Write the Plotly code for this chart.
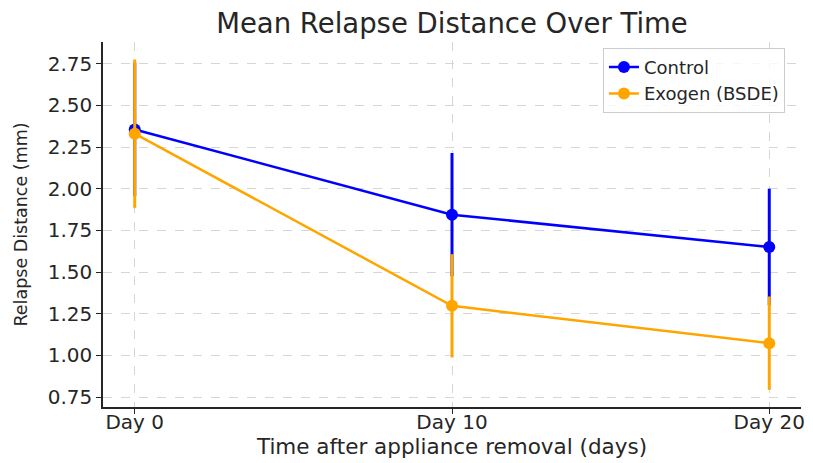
import plotly.graph_objects as go

days = [0, 10, 20]
day_labels = ["Day 0", "Day 10", "Day 20"]
control_mean = [2.355, 1.844, 1.65]
control_err = [0.40, 0.37, 0.35]
exogen_mean = [2.33, 1.297, 1.073]
exogen_err = [0.445, 0.31, 0.28]

font = "DejaVu Sans, Verdana, sans-serif"
fig = go.Figure()
fig.add_trace(go.Scatter(
    x=days, y=control_mean, mode="lines+markers", name="Control",
    line=dict(color="#0000ff", width=2.5),
    marker=dict(color="#0000ff", size=12),
    error_y=dict(type="data", array=control_err, visible=True, width=0, thickness=3, color="#0000ff"),
))
fig.add_trace(go.Scatter(
    x=days, y=exogen_mean, mode="lines+markers", name="Exogen (BSDE)",
    line=dict(color="#ffa500", width=2.5),
    marker=dict(color="#ffa500", size=12),
    error_y=dict(type="data", array=exogen_err, visible=True, width=0, thickness=3, color="#ffa500"),
))

grid = dict(showgrid=True, gridcolor="#d6d6d6", griddash="dash", gridwidth=1)
fig.update_layout(
    width=813, height=463,
    margin=dict(l=103, r=12, t=42, b=56, autoexpand=False),
    paper_bgcolor="white", plot_bgcolor="white",
    font=dict(family=font, color="#262626", size=20),
    title=dict(text="Mean Relapse Distance Over Time", x=(103 + 801) / 2 / 813, xanchor="center",
               y=1 - 23 / 463, yanchor="middle", font=dict(size=27.5, family=font, color="#262626")),
    xaxis=dict(range=[-1, 21], tickvals=days, ticktext=day_labels, ticks="outside", ticklen=5,
               tickcolor="#262626", showline=True, linecolor="#262626", linewidth=1.5, zeroline=False,
               automargin=False, ticklabelstandoff=-9,
               title=dict(text="Time after appliance removal (days)", font=dict(size=21.5), standoff=0),
               tickfont=dict(size=20), **grid),
    yaxis=dict(range=[0.69, 2.88], tickvals=[0.75, 1.0, 1.25, 1.5, 1.75, 2.0, 2.25, 2.5, 2.75],
               tickformat=".2f", ticks="outside", ticklen=5, tickcolor="#262626",
               showline=True, linecolor="#262626", linewidth=1.5, zeroline=False,
               automargin=False,
               title=dict(text="Relapse Distance (mm)", font=dict(size=17.5), standoff=16),
               tickfont=dict(size=20), **grid),
    legend=dict(x=0.977, xanchor="right", y=0.984, yanchor="top",
                bgcolor="rgba(255,255,255,0.8)", bordercolor="#cccccc", borderwidth=1,
                font=dict(size=18), tracegroupgap=0),
    showlegend=True,
)
fig.write_html("out.html")
